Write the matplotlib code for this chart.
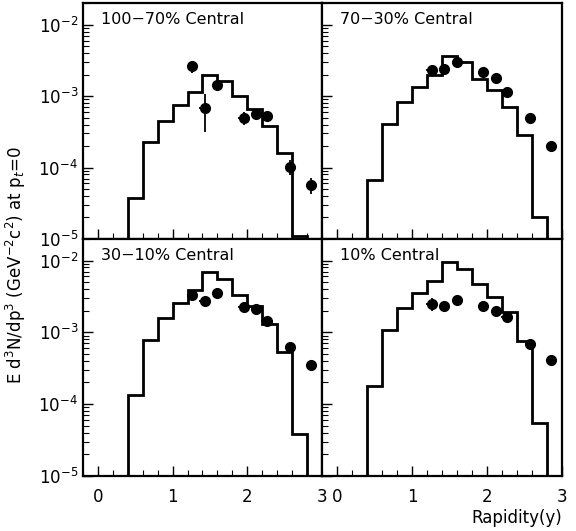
import numpy as np
import matplotlib.pyplot as plt
from matplotlib.ticker import LogLocator, MultipleLocator, FixedLocator

plt.rcParams['font.family'] = ['DejaVu Sans']
plt.rcParams['mathtext.fontset'] = 'dejavusans'

# histogram bins (model), rapidity 0.4 .. 2.8 in steps of 0.2
bin_edges = [0.4, 0.6, 0.8, 1.0, 1.2, 1.4, 1.6, 1.8, 2.0, 2.2, 2.4, 2.6, 2.8]

labels = ['100\u221270% Central', '70\u221230% Central',
          '30\u221210% Central', '10% Central']

hist_100_70 = [3.8e-5, 2.3e-4, 4.5e-4, 7.5e-4, 1.13e-3, 2.0e-3, 1.64e-3,
               9.9e-4, 6.7e-4, 3.85e-4, 1.6e-4, 1.1e-5]
hist_70_30 = [6.7e-5, 4.05e-4, 8.2e-4, 1.35e-3, 1.99e-3, 3.66e-3, 2.96e-3,
              1.73e-3, 1.22e-3, 6.95e-4, 2.85e-4, 2.0e-5]
hist_30_10 = [1.32e-4, 7.9e-4, 1.58e-3, 2.6e-3, 3.9e-3, 6.9e-3, 5.56e-3,
              3.33e-3, 2.34e-3, 1.3e-3, 5.3e-4, 3.85e-5]
hist_10 = [1.8e-4, 1.06e-3, 2.17e-3, 3.58e-3, 5.26e-3, 9.5e-3, 7.66e-3,
           4.73e-3, 3.15e-3, 1.89e-3, 7.45e-4, 5.4e-5]

# data points
y_pts = [1.26, 1.43, 1.60, 1.95, 2.12, 2.26, 2.57, 2.85]
pts_100_70 = [2.6e-3, 6.9e-4, 1.43e-3, 5.0e-4, 5.7e-4, 5.3e-4, 1.03e-4, 5.7e-5]
err_100_70 = [0.5e-3, 3.8e-4, 0.15e-3, 1.0e-4, 0.6e-4, 0.5e-4, 0.25e-4, 1.5e-5]
pts_70_30 = [2.31e-3, 2.39e-3, 3.02e-3, 2.19e-3, 1.77e-3, 1.13e-3, 5.0e-4, 2.0e-4]
err_70_30 = [0.2e-3, 0.2e-3, 0.2e-3, 0.15e-3, 0.1e-3, 0.08e-3, 0.3e-4, 0.1e-4]
pts_30_10 = [3.26e-3, 2.69e-3, 3.51e-3, 2.22e-3, 2.12e-3, 1.45e-3, 6.3e-4, 3.52e-4]
err_30_10 = [0.3e-3, 0.2e-3, 0.2e-3, 0.15e-3, 0.15e-3, 0.1e-3, 0.4e-4, 0.2e-4]
pts_10 = [2.5e-3, 2.34e-3, 2.84e-3, 2.29e-3, 1.95e-3, 1.61e-3, 6.9e-4, 4.14e-4]
err_10 = [0.5e-3, 0.4e-3, 0.2e-3, 0.15e-3, 0.12e-3, 0.1e-3, 0.5e-4, 0.25e-4]
x_err = 0.07

hists = [hist_100_70, hist_70_30, hist_30_10, hist_10]
pts = [pts_100_70, pts_70_30, pts_30_10, pts_10]
errs = [err_100_70, err_70_30, err_30_10, err_10]

fig = plt.figure(figsize=(5.76, 5.31), dpi=100)
x0, xm, x1 = 0.144, 0.559, 0.976
yb, ym, yt = 0.104, 0.55, 0.994
rects = [[x0, ym, xm - x0, yt - ym], [xm, ym, x1 - xm, yt - ym],
         [x0, yb, xm - x0, ym - yb], [xm, yb, x1 - xm, ym - yb]]

for i in range(4):
    ax = fig.add_axes(rects[i])
    h = hists[i]
    ax.stairs(h, bin_edges, baseline=1e-6, color='black', linewidth=2)
    ax.errorbar(y_pts, pts[i], yerr=errs[i], xerr=x_err, fmt='o', color='black',
                markersize=7, elinewidth=1.3, capsize=0)
    ax.set_yscale('log')
    ax.set_ylim(1e-5, 2e-2)
    ax.set_xlim(-0.2, 3.0)
    ax.xaxis.set_major_locator(FixedLocator([0, 1, 2, 3]))
    ax.xaxis.set_minor_locator(MultipleLocator(0.2))
    ax.yaxis.set_major_locator(LogLocator(base=10, numticks=10))
    ax.yaxis.set_minor_locator(LogLocator(base=10, subs=np.arange(2, 10), numticks=20))
    ax.tick_params(which='both', direction='in', top=False, right=False,
                   labelsize=12)
    ax.tick_params(which='major', length=7, width=1)
    ax.tick_params(which='minor', length=4, width=0.8)
    ax.tick_params(axis='x', which='major', pad=9)
    for s in ax.spines.values():
        s.set_linewidth(1.6)
    if i in (1, 3):
        ax.set_yticklabels([])
        ax.yaxis.set_ticklabels([], minor=True)
    if i in (0, 1):
        ax.set_xticklabels([])
    ax.text(0.075, 0.93, labels[i], transform=ax.transAxes, fontsize=11.5,
            ha='left', va='center')

fig.text(0.028, 0.5, r'E d$^3$N/dp$^3$ (GeV$^{-2}$c$^2$) at p$_t$=0',
         rotation=90, ha='center', va='center', fontsize=12)
fig.text(0.976, 0.024, 'Rapidity(y)', ha='right', va='center', fontsize=12)

plt.savefig('out.png', dpi=100)
plt.close()
